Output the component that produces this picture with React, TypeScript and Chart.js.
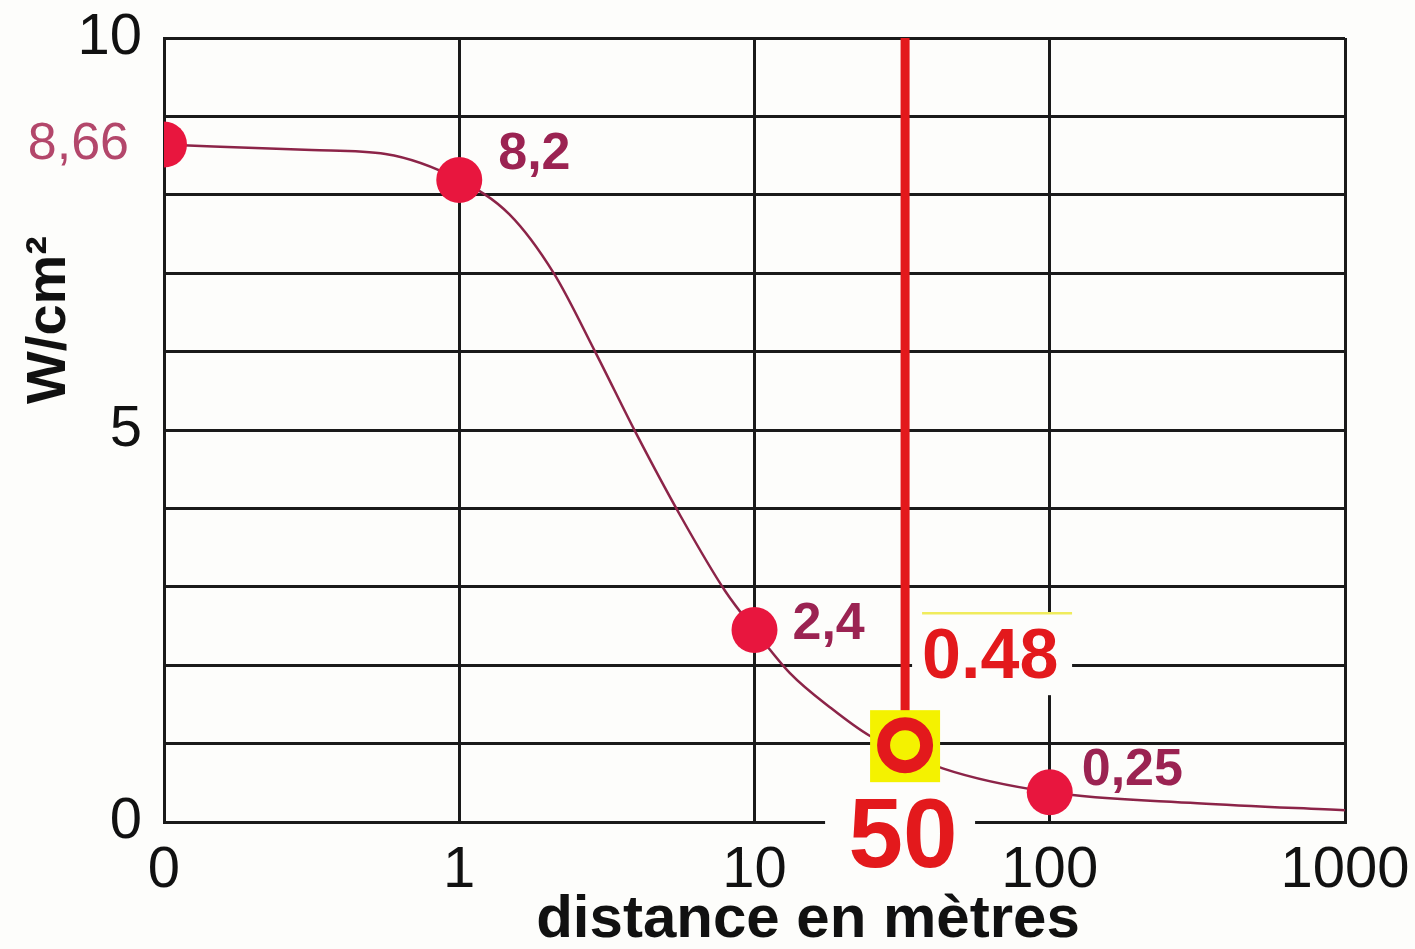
import React, { useEffect, useRef } from "react";
import { Chart, registerables } from "chart.js";

Chart.register(...registerables);

// ---- data ----
const xCategories = ["0", "1", "10", "100", "1000"];
const yTickLabels = ["0", "5", "10"];

// measured points (x in decade positions: 0→"0", 1→"1", 2→"10", 3→"100", 4→"1000")
const dotX = [0, 1, 2, 3];
const dotY = [8.64, 8.19, 2.45, 0.38];
const dotLabels = ["8,66", "8,2", "2,4", "0,25"];

// traced curve
const curveX = [0, 0.5, 0.75, 1, 1.17, 1.32, 1.46, 1.6, 1.75, 1.9, 2, 2.12, 2.26, 2.39, 2.64, 3, 3.5, 4];
const curveY = [8.64, 8.57, 8.52, 8.19, 7.75, 7.0, 6.0, 4.95, 3.9, 2.95, 2.45, 1.9, 1.45, 1.1, 0.68, 0.38, 0.24, 0.15];

// highlighted reading
const markerX = 2.51;
const markerY = 0.98;
const markerValueLabel = "0.48";
const markerDistanceLabel = "50";

const yTitle = "W/cm²";
const xTitle = "distance en mètres";

const FONT = "'Liberation Sans', Arial, sans-serif";

export default function App() {
  const ref = useRef<HTMLCanvasElement | null>(null);

  useEffect(() => {
    document.body.style.margin = "0";
    const canvas = ref.current;
    if (!canvas) return;

    const overlay = {
      id: "overlay",
      beforeDraw(chart: any) {
        const ctx = chart.ctx;
        ctx.save();
        ctx.fillStyle = "#fdfdfb";
        ctx.fillRect(0, 0, chart.width, chart.height);
        ctx.restore();
      },
      afterDatasetsDraw(chart: any) {
        const ctx = chart.ctx;
        const xs = chart.scales.x;
        const ys = chart.scales.y;
        const area = chart.chartArea;
        ctx.save();

        // point labels
        const offs = [
          { dx: -35, dy: 0, align: "right", weight: "normal", color: "#b3476b" },
          { dx: 39, dy: -25, align: "left", weight: "bold", color: "#9b2352" },
          { dx: 38, dy: -5, align: "left", weight: "bold", color: "#9b2352" },
          { dx: 32, dy: -22, align: "left", weight: "bold", color: "#9b2352" },
        ];
        dotLabels.forEach((lab, i) => {
          const px = xs.getPixelForValue(dotX[i]);
          const py = ys.getPixelForValue(dotY[i]);
          const o = offs[i];
          ctx.font = `${o.weight} 52px ${FONT}`;
          ctx.fillStyle = o.color;
          ctx.textAlign = o.align;
          ctx.textBaseline = "middle";
          ctx.fillText(lab, px + o.dx, py + o.dy);
        });

        // highlighted reading
        const mx = xs.getPixelForValue(markerX);
        const my = ys.getPixelForValue(markerY);

        // vertical red line
        ctx.fillStyle = "#e3191c";
        ctx.fillRect(mx - 4.5, area.top, 9, my - 34 - area.top);

        // value box
        ctx.fillStyle = "#fdfdfb";
        ctx.fillRect(mx + 7, my - 132, 160, 82);
        ctx.strokeStyle = "#f0ec5c";
        ctx.lineWidth = 2.5;
        ctx.beginPath();
        ctx.moveTo(mx + 17, my - 132);
        ctx.lineTo(mx + 167, my - 132);
        ctx.stroke();
        ctx.font = `bold 70px ${FONT}`;
        ctx.fillStyle = "#e3191c";
        ctx.textAlign = "left";
        ctx.textBaseline = "middle";
        ctx.fillText(markerValueLabel, mx + 17, my - 86);

        // distance box
        ctx.fillStyle = "#fdfdfb";
        ctx.fillRect(mx - 80, my + 60, 150, 80);
        ctx.font = `bold 98px ${FONT}`;
        ctx.fillStyle = "#e3191c";
        ctx.textAlign = "center";
        ctx.textBaseline = "middle";
        ctx.fillText(markerDistanceLabel, mx - 2, my + 95);

        // marker
        ctx.fillStyle = "#f4f200";
        ctx.fillRect(mx - 35, my - 35, 70, 72);
        ctx.strokeStyle = "#e3191c";
        ctx.lineWidth = 13;
        ctx.beginPath();
        ctx.arc(mx, my, 21.5, 0, Math.PI * 2);
        ctx.stroke();

        ctx.restore();
      },
      afterDraw(chart: any) {
        const ctx = chart.ctx;
        ctx.save();
        ctx.fillStyle = "#111";
        ctx.font = `bold 56px ${FONT}`;
        ctx.textAlign = "center";
        ctx.textBaseline = "middle";
        ctx.translate(50, 320);
        ctx.rotate(-Math.PI / 2);
        ctx.fillText(yTitle, 0, 0);
        ctx.restore();

        ctx.save();
        ctx.fillStyle = "#111";
        ctx.font = `bold 60px ${FONT}`;
        ctx.textAlign = "center";
        ctx.textBaseline = "middle";
        ctx.fillText(xTitle, 808, 920);
        ctx.restore();
      },
    };

    const chart = new Chart(canvas, {
      type: "scatter",
      data: {
        datasets: [
          {
            label: "mesures",
            data: dotX.map((x, i) => ({ x, y: dotY[i] })),
            pointRadius: 23,
            pointBackgroundColor: "#e8163e",
            pointBorderWidth: 0,
            showLine: false,
            order: 0,
          },
          {
            label: "courbe",
            data: curveX.map((x, i) => ({ x, y: curveY[i] })),
            showLine: true,
            pointRadius: 0,
            borderColor: "#8c2448",
            borderWidth: 2.5,
            cubicInterpolationMode: "monotone",
            order: 1,
          },
        ],
      },
      options: {
        responsive: false,
        animation: false,
        devicePixelRatio: 1,
        layout: { padding: { top: 38, right: 70, left: 0, bottom: 0 } },
        plugins: {
          legend: { display: false },
          tooltip: { enabled: false },
        },
        scales: {
          x: {
            type: "linear",
            min: 0,
            max: 4,
            afterFit: (s: any) => {
              s.height = 127;
              s.paddingLeft = 0;
              s.paddingRight = 0;
            },
            ticks: {
              stepSize: 1,
              maxRotation: 0,
              autoSkip: false,
              padding: 14,
              color: "#111",
              font: { family: FONT, size: 58 },
              callback: (v: any) => xCategories[Number(v)] ?? "",
            },
            grid: { color: "#1a1a1a", lineWidth: 3, drawTicks: false },
            border: { display: true, color: "#1a1a1a", width: 3 },
          },
          y: {
            type: "linear",
            min: 0,
            max: 10,
            afterFit: (s: any) => {
              s.width = 164;
              s.paddingTop = 0;
              s.paddingBottom = 0;
            },
            ticks: {
              stepSize: 1,
              autoSkip: false,
              padding: 22,
              color: "#111",
              font: { family: FONT, size: 58 },
              callback: (v: any) => (yTickLabels.includes(String(v)) ? String(v) : ""),
            },
            grid: { color: "#1a1a1a", lineWidth: 3, drawTicks: false },
            border: { display: true, color: "#1a1a1a", width: 3 },
          },
        },
      },
      plugins: [overlay],
    } as any);

    return () => chart.destroy();
  }, []);

  return (
    <div style={{ width: 1415, height: 949, position: "relative" }}>
      <canvas ref={ref} width={1415} height={949} style={{ display: "block" }} />
    </div>
  );
}
